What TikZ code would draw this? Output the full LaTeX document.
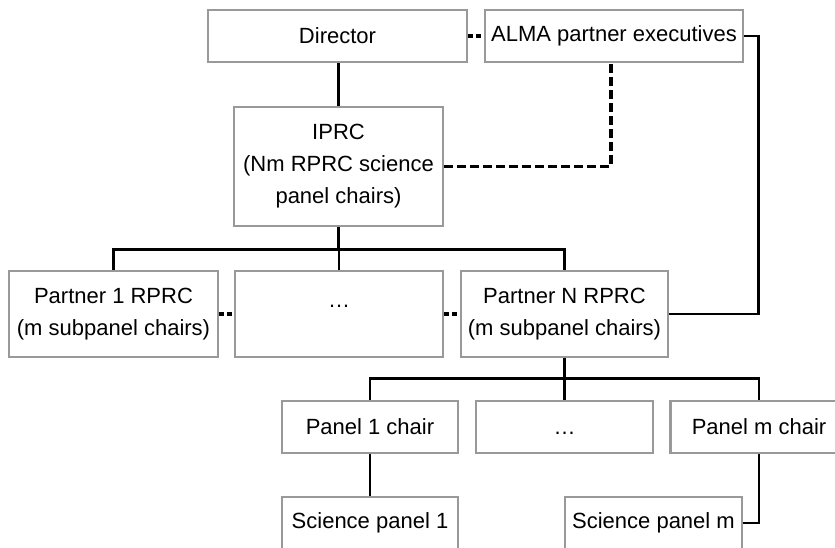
\documentclass[tikz,border=0pt]{standalone}
\usepackage{fontspec}
\setmainfont{Liberation Sans}
\tikzstyle{box}=[draw=black!40,line width=2.6pt,fill=white,align=center,inner sep=0pt,font=\fontsize{22}{32}\selectfont]
\tikzstyle{link}=[line width=2.6pt]
\tikzstyle{dotlink}=[line width=3.4pt,dash pattern=on 5pt off 3pt]
\tikzstyle{dashlink}=[line width=3.4pt,dash pattern=on 9pt off 4pt]

\begin{document}
\begin{tikzpicture}[x=1pt,y=-1pt]
  \clip (0,0) rectangle (835,547);
  \foreach \name/\x/\y/\w/\h/\text in {dir/337.5/36/259/52/Director,
                                       alma/614/36/258/52/ALMA partner executives,
                                       iprc/338.5/166.5/209/119/{IPRC\\(Nm RPRC science\\panel chairs)},
                                       p1/113.5/314/209/86/{Partner 1 RPRC\\(m subpanel chairs)},
                                       pN/564.5/314/207/86/{Partner N RPRC\\(m subpanel chairs)},
                                       c1/370/427/176/52/Panel 1 chair,
                                       cm/759/427/177/52/Panel m chair,
                                       s1/370/523/176/52/Science panel 1,
                                       sm/653.5/523/177/52/Science panel m}
    \node[box,minimum width=\w pt,minimum height=\h pt] (\name) at (\x,\y) {\text};
  \node[box,minimum width=208pt,minimum height=86pt,text height=0pt,text depth=14pt] (pdots) at (339,314) {\ldots};
  \node[box,minimum width=177pt,minimum height=52pt,text height=15.5pt,text depth=0pt] (cdots) at (564.5,427) {\ldots};
  \draw[link] (iprc.north) -- (iprc.north |- dir.south);
  \draw[dotlink] (dir.east) -- (alma.west);
  \draw[dashlink] (iprc.east) -| ([xshift=-3pt]alma.south);
  \draw[link] (alma.east) -- ++(14,0) |- (pN.east);
  \draw[link] (iprc.south) -- ++(0,22) coordinate (bus1);
  \foreach \n in {p1,pdots,pN}
    \draw[link] (\n.north) |- (bus1);
  \draw[dotlink] (p1.east) -- (pdots.west);
  \draw[dotlink] (pdots.east) -- (pN.west);
  \draw[link] (pN.south) -- ++(0,20) coordinate (bus2);
  \foreach \n in {c1,cdots,cm}
    \draw[link] (\n.north) |- (bus2);
  \draw[link] (c1.south) -- (s1.north);
  \draw[link] (cm.south) |- (sm.east);
\end{tikzpicture}
\end{document}
